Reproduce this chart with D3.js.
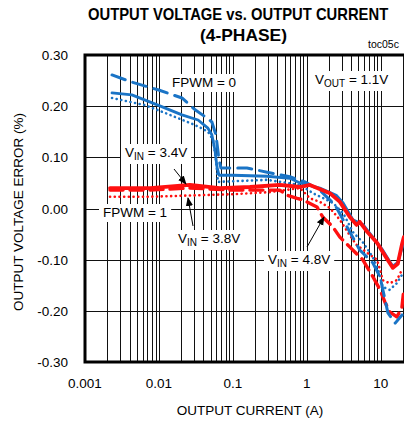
<!DOCTYPE html>
<html><head><meta charset="utf-8">
<script src="https://cdn.jsdelivr.net/npm/d3@7"></script>
<style>body{margin:0;background:#fff}svg{display:block}text{font-family:"Liberation Sans",Arial,sans-serif;fill:#000}</style>
</head><body><div id="chart"></div>
<script>
// ---- data (current in A, output voltage error in %) ----
const yTicks = [0.30, 0.20, 0.10, 0.00, -0.10, -0.20, -0.30];
const xTickLabels = ["0.001", "0.01", "0.1", "1", "10"];
const xTickValues = [0.001, 0.01, 0.1, 1, 10];

// FPWM = 0 (blue)
const blue34I = [0.00232,0.0043,0.0097,0.0205,0.0338,0.046,0.052,0.0573,0.061,0.065,0.1,0.29,0.59,0.81,1.5,2.5,3.1,4.2,5.8,7.8,10.6,14.5,17,20];
const blue34V = [0.226,0.222,0.202,0.183,0.173,0.157,0.144,0.114,0.081,0.065,0.065,0.063,0.059,0.050,0.040,0.026,0.011,-0.022,-0.032,-0.056,-0.081,-0.113,-0.105,-0.071];
const blue48I = [0.00232,0.0043,0.0097,0.0205,0.0308,0.0445,0.052,0.059,0.065,0.069,0.078,0.155,0.29,0.59,0.94,1.5,2.4,3.5,5.2,7.8,9.8,12.5,15.7,19.4];
const blue48V = [0.261,0.247,0.232,0.216,0.193,0.177,0.169,0.144,0.095,0.079,0.079,0.079,0.071,0.062,0.052,0.036,0.007,-0.036,-0.081,-0.106,-0.134,-0.204,-0.224,-0.208];
const blue38I = [0.00232,0.0065,0.012,0.031,0.046,0.054,0.059,0.063,0.29,0.81,1.21,2.25,3.1,4.2,5.8,7.8,9.2,10.6,13.2,16.5,19.3];
const blue38V = [0.216,0.202,0.187,0.163,0.150,0.134,0.095,0.052,0.056,0.046,0.030,0.011,-0.009,-0.046,-0.067,-0.095,-0.120,-0.153,-0.159,-0.146,-0.130];

// FPWM = 1 (red)
const red34I = [0.00218,0.0076,0.0262,0.067,0.17,0.43,0.81,1.1,2.05,2.8,3.8,4.7,5.2,6.6,8.9,12,14.6,17,19.3,20.5];
const red34V = [0.040,0.040,0.046,0.040,0.042,0.046,0.042,0.046,0.030,0.013,-0.016,-0.032,-0.026,-0.046,-0.067,-0.097,-0.116,-0.108,-0.071,-0.056];
const red48I = [0.00218,0.0076,0.026,0.1,0.43,0.54,0.74,0.88,1.37,1.65,2.25,2.8,3.8,5.7,7.6,9.8,11.4,13.2,16.5,19.3,20.5];
const red48V = [0.036,0.036,0.040,0.036,0.036,0.026,0.020,0.017,0.003,-0.017,-0.036,-0.056,-0.075,-0.100,-0.130,-0.159,-0.183,-0.202,-0.212,-0.194,-0.159];
const red38I = [0.00218,0.0076,0.036,0.1,0.32,0.81,1.1,1.5,2.05,2.8,3.8,4.7,6.6,8.9,9.8,10.6,13.2,16.5,19.3];
const red38V = [0.023,0.023,0.026,0.028,0.032,0.040,0.020,0.013,0.001,-0.022,-0.052,-0.071,-0.087,-0.100,-0.120,-0.140,-0.146,-0.140,-0.120];

const BLUE = "#1a74c6", RED = "#ff1010";
const series = [
  {I: red38I, V: red38V, color: RED, w: 2.6, dash: "0.1 4.6"},
  {I: red48I, V: red48V, color: RED, w: 3.4, dash: "13 7"},
  {I: blue38I, V: blue38V, color: BLUE, w: 2.6, dash: "0.1 4.6"},
  {I: blue48I, V: blue48V, color: BLUE, w: 3.0, dash: "14 8"},
  {I: blue34I, V: blue34V, color: BLUE, w: 2.8, dash: null},
  {I: red34I, V: red34V, color: RED, w: 3.8, dash: null}
];

const W = 404, H = 422;
const L = 85, T = 55, B = 362, R = 403;
const svg = d3.select("#chart").append("svg").attr("width", W).attr("height", H);

const x = d3.scaleLog().domain([0.001, 20]).range([L, R]);
const y = d3.scaleLinear().domain([-0.3, 0.3]).range([B, T]);

svg.append("clipPath").attr("id", "clip").append("rect")
  .attr("x", L).attr("y", T - 2).attr("width", W - L).attr("height", B - T + 4);

// grid
const minor = [];
for (let e = -3; e <= 1; e++) for (let m = 1; m <= 9; m++) {
  const v = m * Math.pow(10, e);
  if (v > 0.001 && v <= 20) minor.push(v);
}
const g = svg.append("g").attr("clip-path", "url(#clip)");
g.selectAll("line.v").data(minor).join("line")
  .attr("x1", d => Math.round(x(d)) + 0.5).attr("x2", d => Math.round(x(d)) + 0.5)
  .attr("y1", T).attr("y2", B).attr("stroke", "#111").attr("stroke-width", 1);
g.selectAll("line.h").data(yTicks.filter(d => d > -0.3 && d < 0.3)).join("line")
  .attr("x1", L).attr("x2", W).attr("y1", d => Math.round(y(d)) + 0.5).attr("y2", d => Math.round(y(d)) + 0.5)
  .attr("stroke", "#111").attr("stroke-width", 1.2);

// labels with white backgrounds (drawn before curves)
function label(xp, yp, parts, anchor) {
  const t = svg.append("text").attr("x", xp).attr("y", yp).attr("font-size", 13.5).attr("text-anchor", anchor || "start");
  parts.forEach(p => {
    const s = t.append("tspan").text(p.t);
    if (p.sub) s.attr("font-size", 10).attr("dy", 3);
    if (p.up) s.attr("dy", -3);
  });
  const bb = t.node().getBBox();
  svg.insert("rect", "text").attr("x", bb.x - 4).attr("y", bb.y - 1).attr("width", bb.width + 8).attr("height", bb.height + 3).attr("fill", "#fff");
  return t;
}
label(172, 87, [{t: "FPWM = 0"}]);
label(315, 84, [{t: "V"}, {t: "OUT", sub: true}, {t: " = 1.1V", up: true}]);
label(125, 157, [{t: "V"}, {t: "IN", sub: true}, {t: " = 3.4V", up: true}]);
label(103, 217, [{t: "FPWM = 1"}]);
label(178, 243, [{t: "V"}, {t: "IN", sub: true}, {t: " = 3.8V", up: true}]);
label(268, 264, [{t: "V"}, {t: "IN", sub: true}, {t: " = 4.8V", up: true}]);

// curves
const line = d3.line().x(d => x(d[0])).y(d => y(d[1]));
const cg = svg.append("g").attr("clip-path", "url(#clip)");
series.forEach(s => {
  const pts = s.I.map((v, i) => [v, s.V[i]]);
  cg.append("path").datum(pts).attr("d", line).attr("fill", "none")
    .attr("stroke", s.color).attr("stroke-width", s.w)
    .attr("stroke-linecap", "round").attr("stroke-linejoin", "round")
    .attr("stroke-dasharray", s.dash);
});

// arrows
const defs = svg.append("defs");
defs.append("marker").attr("id", "ah").attr("viewBox", "0 0 10 10").attr("refX", 9).attr("refY", 5)
  .attr("markerWidth", 9).attr("markerHeight", 9).attr("orient", "auto").attr("markerUnits", "userSpaceOnUse")
  .append("path").attr("d", "M0,1 L10,5 L0,9 Z").attr("fill", "#000");
function arrow(x1, y1, x2, y2) {
  svg.append("line").attr("x1", x1).attr("y1", y1).attr("x2", x2).attr("y2", y2)
    .attr("stroke", "#000").attr("stroke-width", 1).attr("marker-end", "url(#ah)");
}
arrow(174, 169, 186, 184);
arrow(193, 226, 188, 198);
arrow(307, 247, 324, 217);

// frame
svg.append("path").attr("d", `M${W + 5},${T} H${L} V${B} H${W + 5}`).attr("fill", "none")
  .attr("stroke", "#000").attr("stroke-width", 3);

// tick labels
svg.selectAll("text.yt").data(yTicks).join("text")
  .attr("x", 68).attr("y", d => y(d) + 5).attr("text-anchor", "end").attr("font-size", 13.5)
  .text(d => d.toFixed(2));
svg.selectAll("text.xt").data(xTickValues).join("text")
  .attr("x", d => x(d)).attr("y", 388).attr("text-anchor", "middle").attr("font-size", 13.5)
  .text((d, i) => xTickLabels[i]);

// axis titles
svg.append("text").attr("x", 250).attr("y", 415).attr("text-anchor", "middle").attr("font-size", 13.5)
  .text("OUTPUT CURRENT (A)");
svg.append("text").attr("transform", "translate(23,212) rotate(-90)").attr("text-anchor", "middle").attr("font-size", 13.5)
  .text("OUTPUT VOLTAGE ERROR (%)");

// title
svg.append("text").attr("transform", "translate(88,20) scale(1,1.12)").attr("font-size", 14.8).attr("font-weight", "bold")
  .text("OUTPUT VOLTAGE vs. OUTPUT CURRENT");
svg.append("text").attr("x", 200).attr("y", 41).attr("font-size", 16.5).attr("font-weight", "bold")
  .attr("textLength", 87).attr("lengthAdjust", "spacingAndGlyphs").text("(4-PHASE)");
svg.append("text").attr("x", 368).attr("y", 48).attr("font-size", 10.5).text("toc05c");
</script></body></html>
